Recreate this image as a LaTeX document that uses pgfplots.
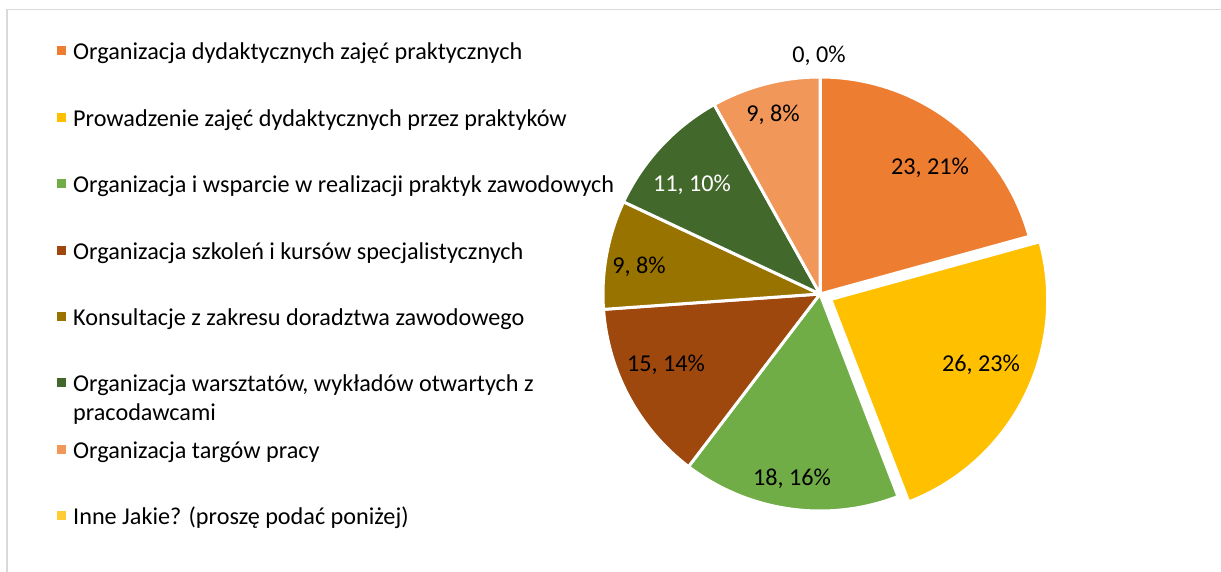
\documentclass[border=0pt]{standalone}
\usepackage{fontspec}
\setmainfont{Carlito}
\usepackage{pgfplots}
\pgfplotsset{compat=1.18}
\usepackage{pgfplotstable}
\usetikzlibrary{calc}

\definecolor{pc0}{HTML}{ED7D31}
\definecolor{pc1}{HTML}{FFC000}
\definecolor{pc2}{HTML}{70AD47}
\definecolor{pc3}{HTML}{9E480E}
\definecolor{pc4}{HTML}{997300}
\definecolor{pc5}{HTML}{43682B}
\definecolor{pc6}{HTML}{F1975A}
\definecolor{pc7}{HTML}{FFCD33}
\definecolor{tc0}{HTML}{000000}
\definecolor{tc1}{HTML}{FFFFFF}
\definecolor{frame}{HTML}{D9D9D9}

% value, explode offset (bp), label position (axis units = bp), label colour flag
\pgfplotstableread{
value explode lx ly tc
23 0  930 397.5 0
26 12 981 200.5 0
18 0  792 86.5  0
15 0  666 200.5 0
9  0  639 298.5 0
11 0  692 380.5 1
9  0  773 450.5 0
0  0  819 509.5 0
}\piedata

\newcommand\lfont{\fontsize{24.2bp}{29bp}\selectfont}

\begin{document}
\begin{tikzpicture}
\pgfplotstablegetrowsof{\piedata}\pgfmathtruncatemacro\pieN{\pgfplotsretval-1}
\def\pieTotal{0}
\pgfplotsforeachungrouped \i in {0,...,\pieN}{%
  \pgfplotstablegetelem{\i}{value}\of\piedata
  \pgfmathsetmacro\pieTotal{\pieTotal+\pgfplotsretval}%
}
\def\pieCum{0}
\pgfplotsforeachungrouped \i in {0,...,\pieN}{%
  \pgfplotstablegetelem{\i}{value}\of\piedata \let\pieVal\pgfplotsretval
  \pgfmathsetmacro\pieStart{90-\pieCum/\pieTotal*360}%
  \pgfmathsetmacro\pieCum{\pieCum+\pieVal}%
  \pgfmathsetmacro\pieEnd{90-\pieCum/\pieTotal*360}%
  \pgfmathsetmacro\pieMid{(\pieStart+\pieEnd)/2}%
  \pgfmathtruncatemacro\piePct{round(\pieVal/\pieTotal*100)}%
  \pgfplotstablegetelem{\i}{explode}\of\piedata \let\pieEx\pgfplotsretval
  \pgfplotstablegetelem{\i}{lx}\of\piedata \let\pieLx\pgfplotsretval
  \pgfplotstablegetelem{\i}{ly}\of\piedata \let\pieLy\pgfplotsretval
  \pgfplotstablegetelem{\i}{tc}\of\piedata \let\pieTc\pgfplotsretval
  \expandafter\xdef\csname pieS\i\endcsname{\pieStart}%
  \expandafter\xdef\csname pieE\i\endcsname{\pieEnd}%
  \expandafter\xdef\csname pieM\i\endcsname{\pieMid}%
  \expandafter\xdef\csname pieX\i\endcsname{\pieEx}%
  \expandafter\xdef\csname pieLX\i\endcsname{\pieLx}%
  \expandafter\xdef\csname pieLY\i\endcsname{\pieLy}%
  \expandafter\xdef\csname pieTC\i\endcsname{\pieTc}%
  \expandafter\xdef\csname pieT\i\endcsname{\pieVal, \piePct\noexpand\%}%
}
\useasboundingbox (0,0) rectangle (1221bp,572bp);
\begin{axis}[at={(0,0)}, anchor=south west, scale only axis,
  width=1221bp, height=572bp, xmin=0, xmax=1221, ymin=0, ymax=572,
  hide axis, clip=false]
\draw[frame, line width=1.5bp] (axis cs:7,-5) -- (axis cs:7,562.5) -- (axis cs:1230,562.5);
\pgfplotsinvokeforeach{0,...,7}{%
  \path[fill=pc#1, draw=white, line width=3bp, line join=miter]
    ($(axis cs:820,278)+(\csname pieM#1\endcsname:\csname pieX#1\endcsname bp)$)
    -- ++(\csname pieS#1\endcsname:217bp)
    arc[start angle=\csname pieS#1\endcsname, end angle=\csname pieE#1\endcsname, radius=217bp]
    -- cycle;
}
\pgfplotsinvokeforeach{0,...,7}{%
  \node[anchor=base, inner sep=0pt, font=\lfont, text=tc\csname pieTC#1\endcsname]
    at (axis cs:\csname pieLX#1\endcsname,\csname pieLY#1\endcsname) {\csname pieT#1\endcsname};
}
% legend
\pgfplotsinvokeforeach{0,...,7}{%
  \fill[pc#1] (axis cs:56.5,{521-66.4*#1-4.5}) rectangle (axis cs:65.5,{521-66.4*#1+4.5});
}
\node[anchor=base west, inner sep=0pt, font=\lfont] at (axis cs:73,512) {Organizacja dydaktycznych zajęć praktycznych};
\node[anchor=base west, inner sep=0pt, font=\lfont] at (axis cs:73,445.6) {Prowadzenie zajęć dydaktycznych przez praktyków};
\node[anchor=base west, inner sep=0pt, font=\lfont] at (axis cs:73,379.2) {Organizacja i wsparcie w realizacji praktyk zawodowych};
\node[anchor=base west, inner sep=0pt, font=\lfont] at (axis cs:73,312.8) {Organizacja szkoleń i kursów specjalistycznych};
\node[anchor=base west, inner sep=0pt, font=\lfont] at (axis cs:73,246.4) {Konsultacje z zakresu doradztwa zawodowego};
\node[anchor=base west, inner sep=0pt, font=\lfont] at (axis cs:73,180) {Organizacja warsztatów, wykładów otwartych z};
\node[anchor=base west, inner sep=0pt, font=\lfont] at (axis cs:73,151.5) {pracodawcami};
\node[anchor=base west, inner sep=0pt, font=\lfont] at (axis cs:73,113.6) {Organizacja targów pracy};
\node[anchor=base west, inner sep=0pt, font=\lfont] at (axis cs:73,47.2) {Inne Jakie? (proszę podać poniżej)};
\end{axis}
\end{tikzpicture}
\end{document}
